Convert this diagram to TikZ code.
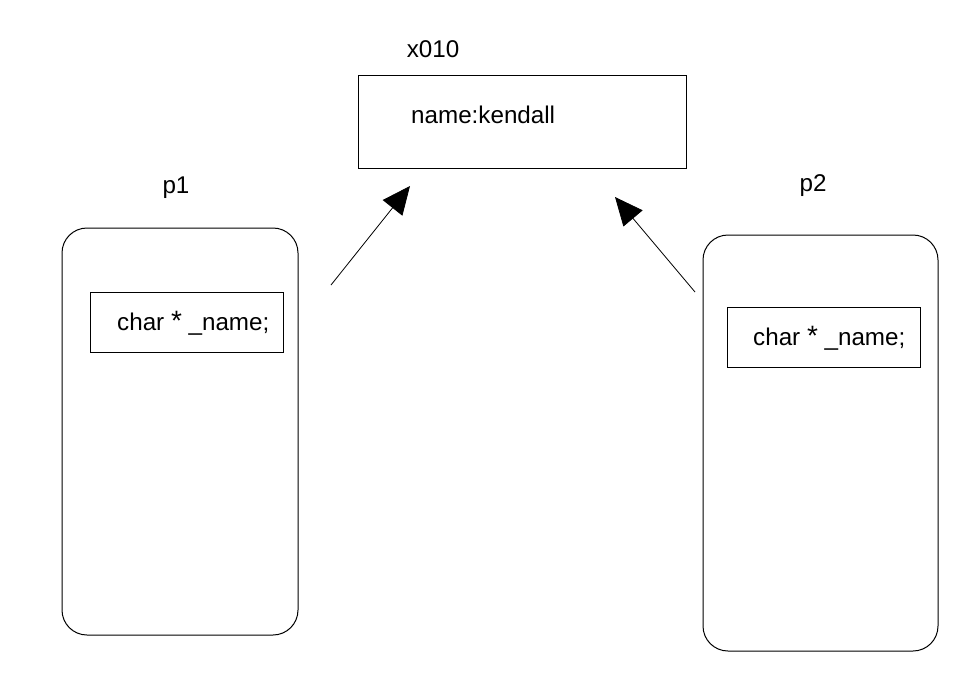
\documentclass[tikz,border=0pt]{standalone}
\usepackage{fontspec}
\setmainfont{Liberation Sans}
\usetikzlibrary{arrows.meta}
\begin{document}
\begin{tikzpicture}[x=1pt,y=-1pt,
  txt/.style={font=\fontsize{24.2}{28}\selectfont, inner sep=0pt},
  plain/.style={draw=black, line width=1pt},
  obj/.style={draw=black, line width=1pt, rounded corners=25pt},
  ptr/.style={line width=0.8pt, -{Triangle[length=28pt,width=25pt]}}]
\useasboundingbox[fill=white] (0,0) rectangle (964,680);
% heap object
\draw[plain] (358,75) rectangle (686,168);
\node[txt, anchor=west] (kend) at (411,115) {name:kendall};
\node[txt] (addr) at (433,49) {x010};
% p1
\draw[obj] (62,228) rectangle (298,635);
\node[txt] (p1) at (176,188) {p1};
\draw[plain] (90,292) rectangle (283,352);
\node[txt, anchor=west] (n1) at (117,323) {char {\fontsize{28}{28}\selectfont*} \_name;};
% p2
\draw[obj] (703,235) rectangle (938,651);
\node[txt] (p2) at (813,186) {p2};
\draw[plain] (727,307) rectangle (920,367);
\node[txt, anchor=west] (n2) at (753,338) {char {\fontsize{28}{28}\selectfont*} \_name;};
% arrows
\coordinate (a1s) at (331,285);
\coordinate (a1e) at (410,186);
\coordinate (a2s) at (695,292);
\coordinate (a2e) at (615,197);
\draw[ptr] (a1s) -- (a1e);
\draw[ptr] (a2s) -- (a2e);
\end{tikzpicture}
\end{document}
